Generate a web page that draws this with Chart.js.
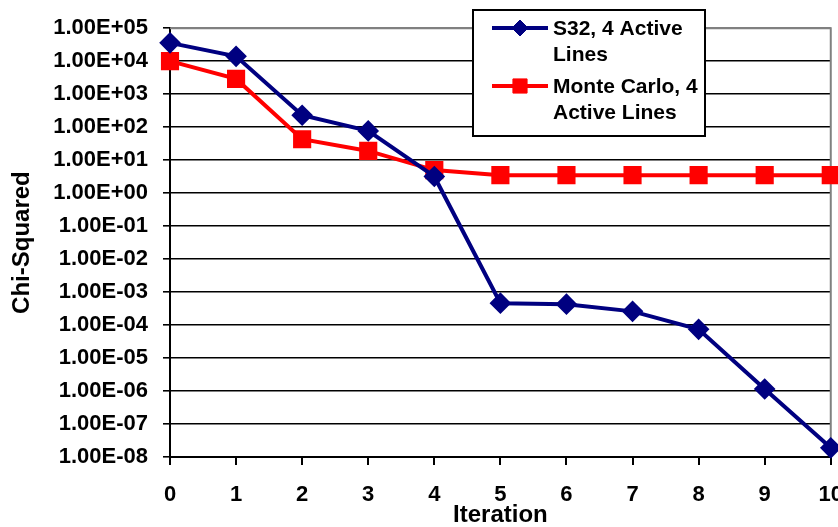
<!DOCTYPE html>
<html>
<head>
<meta charset="utf-8">
<script src="https://cdn.jsdelivr.net/npm/chart.js@4.4.1/dist/chart.umd.min.js"></script>
<style>
  html, body { margin: 0; padding: 0; background: #fff; overflow: hidden; width: 838px; height: 527px; }
</style>
</head>
<body>
<canvas id="chiChart" width="860" height="527"></canvas>
<script>
const iterations = ['0', '1', '2', '3', '4', '5', '6', '7', '8', '9', '10'];
const s32Values = [3.6e4, 1.4e4, 230, 77, 3.2, 4.6e-4, 4.3e-4, 2.6e-4, 7.4e-5, 1.15e-6, 1.9e-8];
const monteCarloValues = [1.0e4, 2.9e3, 43, 19, 5.0, 3.5, 3.5, 3.5, 3.5, 3.5, 3.5];
const seriesNames = [['S32, 4 Active', 'Lines'], ['Monte Carlo, 4', 'Active Lines']];
const yTickLabels = ['1.00E+05', '1.00E+04', '1.00E+03', '1.00E+02', '1.00E+01', '1.00E+00', '1.00E-01',
    '1.00E-02', '1.00E-03', '1.00E-04', '1.00E-05', '1.00E-06', '1.00E-07', '1.00E-08'];
const yTickValues = yTickLabels.map(Number);

const FONT = '"Liberation Sans", Arial, sans-serif';

// right/top plot border in grey, like the spreadsheet original
const plotBorder = {
    id: 'plotBorder',
    beforeDatasetsDraw(chart) {
        const { ctx, chartArea } = chart;
        ctx.save();
        ctx.strokeStyle = '#808080';
        ctx.lineWidth = 2;
        ctx.beginPath();
        ctx.moveTo(chartArea.left, chartArea.top);
        ctx.lineTo(chartArea.right, chartArea.top);
        ctx.lineTo(chartArea.right, chartArea.bottom);
        ctx.stroke();
        ctx.restore();
    }
};

// boxed legend with two-line labels
const boxLegend = {
    id: 'boxLegend',
    afterDraw(chart) {
        const ctx = chart.ctx;
        ctx.save();
        ctx.fillStyle = '#fff';
        ctx.fillRect(473, 10, 232, 126);
        ctx.strokeStyle = '#000';
        ctx.lineWidth = 2;
        ctx.strokeRect(473, 10, 232, 126);
        ctx.font = 'bold 21px ' + FONT;
        ctx.textBaseline = 'middle';
        ctx.textAlign = 'left';
        const rows = [28, 86];
        chart.data.datasets.forEach((ds, i) => {
            const y = rows[i];
            ctx.strokeStyle = ds.borderColor;
            ctx.lineWidth = ds.borderWidth;
            ctx.beginPath();
            ctx.moveTo(492, y);
            ctx.lineTo(548, y);
            ctx.stroke();
            ctx.fillStyle = ds.pointBackgroundColor;
            ctx.strokeStyle = ds.pointBorderColor;
            ctx.lineWidth = 1;
            Chart.helpers.drawPoint(ctx, { pointStyle: ds.pointStyle, radius: ds.pointRadius, rotation: 0, borderWidth: 1 }, 520, y);
            ctx.fillStyle = '#000';
            seriesNames[i].forEach((line, j) => ctx.fillText(line, 553, y + 1 + j * 26));
        });
        ctx.restore();
    }
};

const ctx = document.getElementById('chiChart').getContext('2d');
new Chart(ctx, {
    type: 'line',
    data: {
        labels: iterations,
        datasets: [
            {
                label: seriesNames[0].join(' '),
                data: s32Values,
                borderColor: '#000080',
                backgroundColor: '#000080',
                borderWidth: 4,
                pointStyle: 'rectRot',
                pointRadius: 8,
                pointBackgroundColor: '#000080',
                pointBorderColor: '#000080',
                tension: 0,
                clip: false
            },
            {
                label: seriesNames[1].join(' '),
                data: monteCarloValues,
                borderColor: '#ff0000',
                backgroundColor: '#ff0000',
                borderWidth: 4,
                pointStyle: 'rect',
                pointRadius: 10,
                pointBackgroundColor: '#ff0000',
                pointBorderColor: '#ff0000',
                tension: 0,
                clip: false
            }
        ]
    },
    options: {
        responsive: false,
        animation: false,
        devicePixelRatio: 1,
        layout: { autoPadding: false, padding: { top: 28, right: 0, left: 0, bottom: 0 } },
        plugins: {
            legend: { display: false },
            tooltip: { enabled: false }
        },
        scales: {
            x: {
                type: 'category',
                offset: false,
                afterFit(scale) { scale.height = 70; },
                grid: { display: true, drawOnChartArea: false, drawTicks: true, tickLength: 8, color: '#000', lineWidth: 2 },
                border: { display: true, color: '#000', width: 2 },
                ticks: { color: '#000', padding: 17, maxRotation: 0, autoSkip: false, font: { family: FONT, size: 22, weight: 'bold' } },
                title: { display: true, text: 'Iteration', color: '#000', padding: { top: 0, bottom: 0 }, font: { family: FONT, size: 24, weight: 'bold', lineHeight: 1 } }
            },
            y: {
                type: 'logarithmic',
                min: 1e-8,
                max: 1e5,
                afterFit(scale) { scale.width = 170; },
                afterBuildTicks(scale) { scale.ticks = yTickValues.map(v => ({ value: v })); },
                grid: {
                    drawTicks: true,
                    tickLength: 7,
                    color: c => (c.tick && c.tick.value === 1e5 ? '#808080' : '#000'),
                    tickColor: '#000',
                    lineWidth: 1.6
                },
                border: { display: true, color: '#000', width: 2 },
                ticks: {
                    color: '#000',
                    padding: 15,
                    autoSkip: false,
                    font: { family: FONT, size: 22, weight: 'bold' },
                    callback: v => yTickLabels[yTickValues.indexOf(v)] || ''
                },
                title: { display: true, text: 'Chi-Squared', color: '#000', padding: { top: 8, bottom: 0 }, font: { family: FONT, size: 24, weight: 'bold', lineHeight: 1.2 } }
            }
        }
    },
    plugins: [plotBorder, boxLegend]
});
</script>
</body>
</html>
